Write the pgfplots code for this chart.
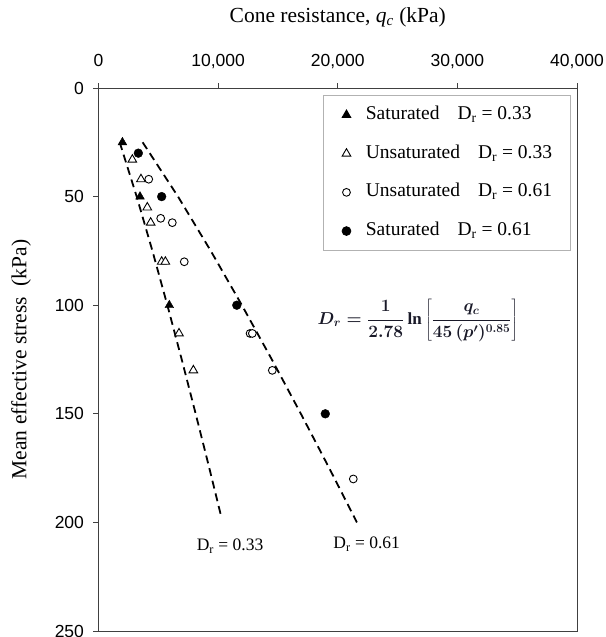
\documentclass[border=0pt]{standalone}
\usepackage{fontspec}
\setmainfont{Liberation Serif}
\setsansfont{Liberation Sans}
\usepackage{pgfplots}
\usetikzlibrary{calc}
\pgfplotsset{compat=1.18}
\definecolor{axisgray}{RGB}{64,64,64}
\definecolor{eqcol}{RGB}{25,25,40}

\begin{document}
\begin{tikzpicture}
\begin{axis}[
    scale only axis, width=478.5pt, height=543pt,
    xmin=0, xmax=40000, ymin=0, ymax=250, y dir=reverse,
    xtick={0,10000,20000,30000,40000}, ytick={0,50,100,150,200,250},
    xtick pos=right, xticklabel pos=right, ytick pos=left,
    tick align=outside, major tick length=5pt,
    axis line style={axisgray, line width=0.9pt},
    every tick/.style={axisgray, line width=0.9pt},
    scaled x ticks=false,
    /pgf/number format/1000 sep={,},
    /pgf/number format/assume math mode=true,
    tick label style={font=\sffamily\fontsize{17.5}{20}\selectfont},
    xticklabel style={anchor=base, yshift=17pt},
    yticklabel style={xshift=-6pt},
    xlabel={Cone resistance, \textit{q}\textsubscript{\textit{c}} (kPa)},
    xlabel style={font=\fontsize{21.5}{24}\selectfont, at={(axis description cs:0.5,1)}, anchor=center, yshift=71pt},
    ylabel={Mean effective stress\ \ (kPa)},
    ylabel style={font=\fontsize{21.5}{24}\selectfont, at={(axis description cs:-0.162,0.5)}, anchor=center},
    legend cell align=left,
    legend image code/.code={\draw[#1] plot coordinates {(0pt,0pt)}; \path (-5pt,0pt) (19pt,0pt);},
    legend style={at={(0.4685,0.987)}, anchor=north west, draw=black!30, line width=0.8pt,
        font=\fontsize{19.5}{22}\selectfont, inner xsep=18pt, inner ysep=10pt,
        row sep=19.7pt, nodes={inner xsep=0pt, inner ysep=0pt, text height=14pt, text depth=5pt}},
]
\coordinate (bl) at (axis cs:0,250);
\coordinate (eq) at (axis cs:26700,107);
% trend lines, D_r = 0.33 and 0.61
\addplot[forget plot, black, line width=1.8pt, dash pattern=on 8pt off 5pt] coordinates {
    (1772,25)(3193,50)(4508,75)(5757,100)(6958,125)(8124,150)(9263,175)(10243,197)
};
\addplot[forget plot, black, line width=1.8pt, dash pattern=on 8pt off 5pt] coordinates {
    (3690,25)(6649,50)(9387,75)(11987,100)(14491,125)(16919,150)(19288,175)(21604,200)
};
\addplot[only marks, mark=triangle*, mark size=5pt, black] coordinates {
    (2000,25)(3470,50)(5920,100)
};
\addlegendentry{Saturated\hspace{18pt}D\textsubscript{r} = 0.33}
\addplot[only marks, mark=triangle*, mark size=5pt, black, mark options={fill=white, line width=0.9pt}] coordinates {
    (2830,33)(3550,42)(4080,55)(4360,62)(5280,80)(5590,80)(6730,113)(7930,130)
};
\addlegendentry{Unsaturated\hspace{18pt}D\textsubscript{r} = 0.33}
\addplot[only marks, mark=*, mark size=3.9pt, black, mark options={fill=white, line width=0.9pt}] coordinates {
    (4200,42)(5200,60)(6170,62)(7170,80)(12670,113)(12860,113)(14530,130)(21300,180)
};
\addlegendentry{Unsaturated\hspace{18pt}D\textsubscript{r} = 0.61}
\addplot[only marks, mark=*, mark size=4.4pt, black] coordinates {
    (3330,30)(5280,50)(11560,100)(18960,150)
};
\addlegendentry{Saturated\hspace{18pt}D\textsubscript{r} = 0.61}
\node[font=\fontsize{17.5}{20}\selectfont] at (axis cs:11000,211) {D\textsubscript{r} = 0.33};
\node[font=\fontsize{17.5}{20}\selectfont] at (axis cs:22420,210) {D\textsubscript{r} = 0.61};
\end{axis}
\node[text=eqcol, font=\fontsize{17}{20}\selectfont\boldmath] at (eq)
    {$\displaystyle D_r=\frac{1}{2.78}\ln\left[\frac{q_c}{45\,(p')^{0.85}}\right]$};
\pgfresetboundingbox
\path[use as bounding box] ($(bl)+(-98.5pt,-6pt)$) rectangle ($(bl)+(506.5pt,631pt)$);
\end{tikzpicture}
\end{document}
